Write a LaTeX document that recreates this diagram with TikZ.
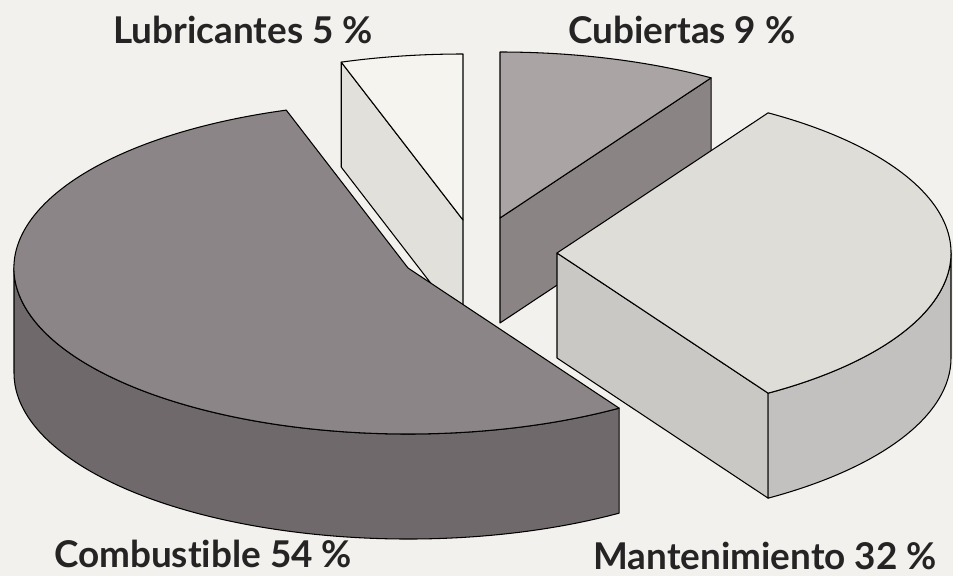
\documentclass[tikz,border=0pt]{standalone}
\usepackage{fontspec}
\setmainfont{Lato}[Ligatures=NoCommon]
\definecolor{paper}{HTML}{F2F1ED}
\definecolor{ink}{HTML}{262324}
\definecolor{combtopc}{HTML}{8C8587}
\definecolor{combsidec}{HTML}{6F696C}
\definecolor{lubtopc}{HTML}{F5F4EE}
\definecolor{lubsidec}{HTML}{E2E0DA}
\definecolor{cubtopc}{HTML}{AAA4A5}
\definecolor{cubsidec}{HTML}{8B8485}
\definecolor{manttopc}{HTML}{DEDDD8}
\definecolor{mantfrontc}{HTML}{CAC8C4}
\definecolor{mantsidec}{HTML}{C3C1BF}

\begin{document}
\begin{tikzpicture}[x=0.02cm, y=0.02cm,
                    facet/.style={draw=black, line width=0.6pt, line join=round},
                    pielabel/.style={text=ink, anchor=base,
                                     font=\fontsize{21}{25}\selectfont\bfseries}]
	\useasboundingbox (0,0) rectangle (953,576);
	\fill[paper] (0,0) rectangle (953,576);

	\coordinate (ccub)  at (500, 358);
	\coordinate (club)  at (463, 356);
	\coordinate (cmant) at (557, 323);
	\coordinate (ccomb) at (408, 308);

	% Cubiertas
	\begin{scope}[shift={(ccub)}]
		\filldraw[facet, fill=cubsidec] (0,0) -- (57.6:394 and 166) -- ++(0,-105) -- (0,-105) -- cycle;
		\filldraw[facet, fill=cubtopc] (0,0) -- (57.6:394 and 166)
			arc[start angle=57.6, end angle=90, x radius=394, y radius=166] -- cycle;
	\end{scope}

	% Lubricantes
	\begin{scope}[shift={(club)}]
		\filldraw[facet, fill=lubsidec] (0,0) -- (108:394 and 166) -- ++(0,-105) -- (0,-105) -- cycle;
		\filldraw[facet, fill=lubtopc] (0,0) -- (90:394 and 166)
			arc[start angle=90, end angle=108, x radius=394, y radius=166] -- cycle;
	\end{scope}

	% Mantenimiento
	\begin{scope}[shift={(cmant)}]
		\filldraw[facet, fill=mantfrontc] (0,0) -- (-57.6:394 and 166) -- ++(0,-105) -- (0,-105) -- cycle;
		\filldraw[facet, fill=mantsidec] (-57.6:394 and 166)
			arc[start angle=-57.6, end angle=0, x radius=394, y radius=166] -- ++(0,-105)
			arc[start angle=0, end angle=-57.6, x radius=394, y radius=166] -- cycle;
		\filldraw[facet, fill=manttopc] (0,0) -- (-57.6:394 and 166)
			arc[start angle=-57.6, end angle=57.6, x radius=394, y radius=166] -- cycle;
	\end{scope}

	% Combustible
	\begin{scope}[shift={(ccomb)}]
		\filldraw[facet, fill=combsidec] (180:394 and 166)
			arc[start angle=180, end angle=302.4, x radius=394, y radius=166] -- ++(0,-105)
			arc[start angle=302.4, end angle=180, x radius=394, y radius=166] -- cycle;
		\filldraw[facet, fill=combtopc] (0,0) -- (108:394 and 166)
			arc[start angle=108, end angle=302.4, x radius=394, y radius=166] -- cycle;
	\end{scope}

	\node[pielabel] (lub)  at (243, 533) {Lubricantes 5 \%};
	\node[pielabel] (cub)  at (682, 533) {Cubiertas 9 \%};
	\node[pielabel] (comb) at (203, 9)   {Combustible 54 \%};
	\node[pielabel] (mant) at (765, 7)   {Mantenimiento 32 \%};
\end{tikzpicture}
\end{document}
